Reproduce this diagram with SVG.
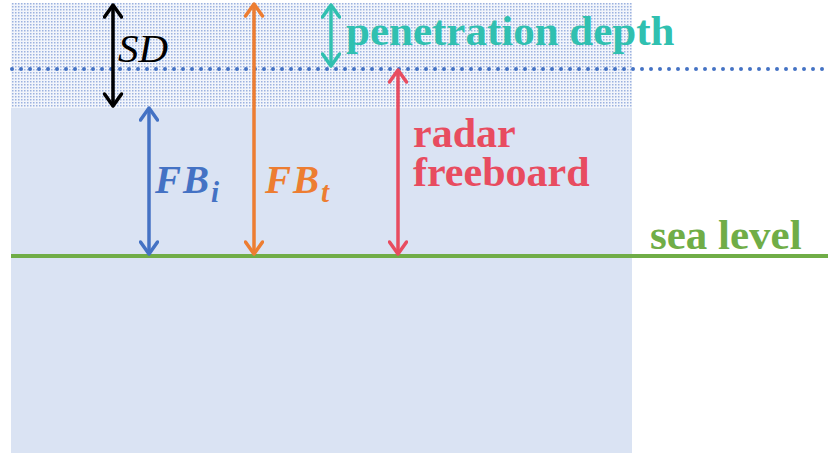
<svg xmlns="http://www.w3.org/2000/svg" width="828" height="453" viewBox="0 0 828 453">
<style>
.t{font-family:"Liberation Serif","Times New Roman",serif;font-weight:bold}
.m{font-family:"Liberation Serif","Times New Roman",serif;font-style:italic}
.arr{fill:none;stroke-width:3.5}
</style>
<defs>
<pattern id="snow" width="3" height="3" patternUnits="userSpaceOnUse">
<rect width="3" height="3" fill="#F2F5FB"/>
<rect x="0" y="0" width="1.5" height="1.5" fill="#9CB2DF"/>
</pattern>
<marker id="hk" viewBox="-14 -10 16 20" refX="0" refY="0" markerWidth="16" markerHeight="20" markerUnits="userSpaceOnUse" orient="auto-start-reverse"><path d="M-12,-8.5 L0,0 L-12,8.5" fill="none" stroke="#000" stroke-width="3.5" stroke-linecap="round" stroke-linejoin="round"/></marker>
<marker id="hb" viewBox="-14 -10 16 20" refX="0" refY="0" markerWidth="16" markerHeight="20" markerUnits="userSpaceOnUse" orient="auto-start-reverse"><path d="M-12,-8.5 L0,0 L-12,8.5" fill="none" stroke="#4472C4" stroke-width="3.5" stroke-linecap="round" stroke-linejoin="round"/></marker>
<marker id="ho" viewBox="-14 -10 16 20" refX="0" refY="0" markerWidth="16" markerHeight="20" markerUnits="userSpaceOnUse" orient="auto-start-reverse"><path d="M-12,-8.5 L0,0 L-12,8.5" fill="none" stroke="#ED7D31" stroke-width="3.5" stroke-linecap="round" stroke-linejoin="round"/></marker>
<marker id="hr" viewBox="-14 -10 16 20" refX="0" refY="0" markerWidth="16" markerHeight="20" markerUnits="userSpaceOnUse" orient="auto-start-reverse"><path d="M-12,-8.5 L0,0 L-12,8.5" fill="none" stroke="#E84C60" stroke-width="3.5" stroke-linecap="round" stroke-linejoin="round"/></marker>
<marker id="ht" viewBox="-14 -10 16 20" refX="0" refY="0" markerWidth="16" markerHeight="20" markerUnits="userSpaceOnUse" orient="auto-start-reverse"><path d="M-12,-8.5 L0,0 L-12,8.5" fill="none" stroke="#30C0B0" stroke-width="3.5" stroke-linecap="round" stroke-linejoin="round"/></marker>
</defs>
<rect width="828" height="453" fill="#FFFFFF"/>
<g id="snow-layer"><rect x="11" y="3" width="621" height="105" fill="url(#snow)"/></g>
<g id="ice"><rect x="11" y="108" width="621" height="345" fill="#DAE3F3"/></g>
<g id="connectors">
<line x1="12" y1="69" x2="828" y2="69" stroke="#4472C4" stroke-width="4" stroke-dasharray="0 9" stroke-linecap="round"/>
<line x1="11" y1="256" x2="828" y2="256" stroke="#70AD47" stroke-width="4"/>
<line class="arr" x1="113" y1="5" x2="113" y2="106" stroke="#000" marker-start="url(#hk)" marker-end="url(#hk)"/>
<line class="arr" x1="331" y1="5" x2="331" y2="66" stroke="#30C0B0" marker-start="url(#ht)" marker-end="url(#ht)"/>
<line class="arr" x1="149" y1="108" x2="149" y2="254" stroke="#4472C4" marker-start="url(#hb)" marker-end="url(#hb)"/>
<line class="arr" x1="254" y1="4" x2="254" y2="254" stroke="#ED7D31" marker-start="url(#ho)" marker-end="url(#ho)"/>
<line class="arr" x1="398" y1="70" x2="398" y2="254" stroke="#E84C60" marker-start="url(#hr)" marker-end="url(#hr)"/>
</g>
<g id="label-sd"><text class="m" x="118" y="62" font-size="41" fill="#000">SD</text></g>
<g id="label-pen"><text class="t" x="346" y="45" font-size="43" fill="#30C0B0">penetration depth</text></g>
<g id="label-fbi"><text class="m" x="155" y="193" font-size="39" font-weight="bold" fill="#4472C4" letter-spacing="2">FB<tspan font-size="29" dy="9">i</tspan></text></g>
<g id="label-fbt"><text class="m" x="265" y="193" font-size="39" font-weight="bold" fill="#ED7D31" letter-spacing="2">FB<tspan font-size="29" dy="9">t</tspan></text></g>
<g id="label-radar"><text class="t" x="413" y="147" font-size="42" fill="#E84C60">radar</text><text class="t" x="413" y="186" font-size="42" fill="#E84C60">freeboard</text></g>
<g id="label-sea"><text class="t" x="650" y="249" font-size="43" fill="#70AD47">sea level</text></g>
</svg>
